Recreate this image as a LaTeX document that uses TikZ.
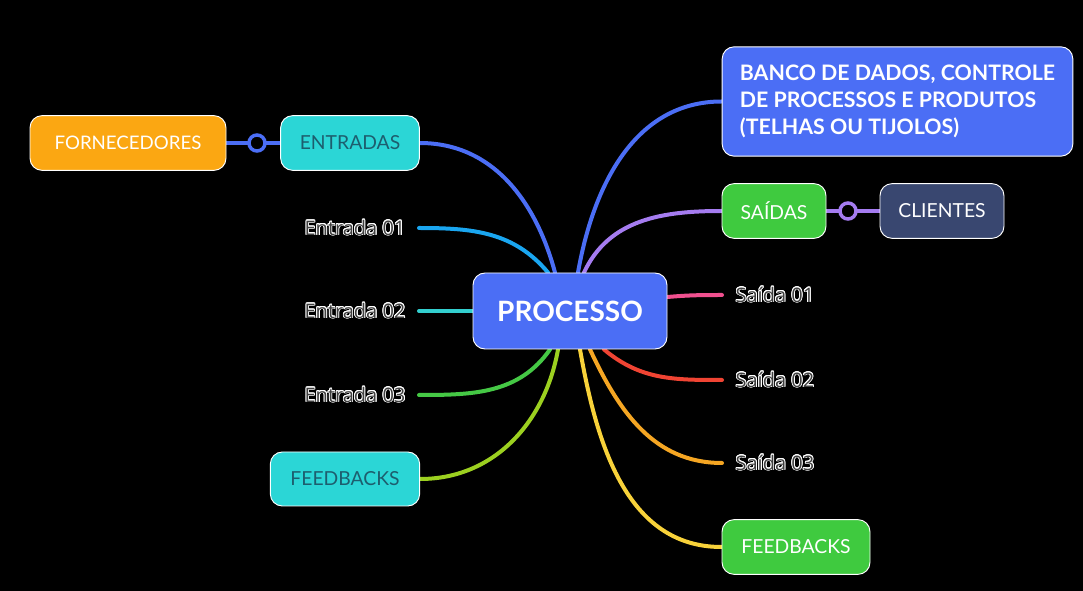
\documentclass[tikz,border=0pt]{standalone}
\usepackage{fontspec}
\setmainfont{Lato}
\newfontfamily\labelfont{Open Sans}
\usepackage[copies]{contour}
\contourlength{0.6pt}
\contournumber{16}
\usetikzlibrary{positioning,calc,backgrounds}

\definecolor{mainblue}{HTML}{4B6EF5}
\definecolor{nodecyan}{HTML}{2BD6D6}
\definecolor{nodeorange}{HTML}{FBA712}
\definecolor{nodegreen}{HTML}{3FCA3F}
\definecolor{nodenavy}{HTML}{394770}
\definecolor{tealtext}{HTML}{1D5E6E}
\definecolor{lnlightblue}{HTML}{1AA6F0}
\definecolor{lnteal}{HTML}{33CFCF}
\definecolor{lngreen}{HTML}{45C845}
\definecolor{lnlime}{HTML}{9CD020}
\definecolor{lnpurple}{HTML}{A57CF0}
\definecolor{lnpink}{HTML}{F0508F}
\definecolor{lnred}{HTML}{F04433}
\definecolor{lnorange}{HTML}{F5A623}
\definecolor{lnyellow}{HTML}{F8D23A}
\definecolor{labelgray}{HTML}{404040}

\begin{document}
\begin{tikzpicture}[
		x=0.75pt, y=-0.75pt,
		box/.style={
			draw=white,
			line width=0.7pt,
			rounded corners=9pt,
			minimum height=41pt,
			align=center,
			font=\fontsize{14.5}{17}\selectfont
		},
		leaf/.style={
			inner xsep=10pt,
			text=labelgray,
			font=\labelfont\fontsize{15}{18}\selectfont
		},
		link/.style={line width=3pt, line cap=round},
		ring/.style={
			circle,
			draw,
			fill=black,
			line width=2.6pt,
			minimum size=12pt,
			inner sep=0pt
		}
		]
		
		\begin{pgfonlayer}{background}
			\fill[black] (0,0) rectangle (1083,591);
		\end{pgfonlayer}
		\useasboundingbox (0,0) rectangle (1083,591);
		
		% central node
		\node (proc) [box, fill=mainblue, text=white, minimum width=145.5pt, minimum height=57pt,
			font=\fontsize{21}{25}\bfseries\selectfont] at (570,311) {PROCESSO};
		
		% left side
		\node (entradas) [box, fill=nodecyan, text=tealtext, minimum width=104pt] at (350,143) {ENTRADAS};
		
		\node (fornec) [box, fill=nodeorange, text=white, minimum width=147pt,
			font=\fontsize{14}{17}\selectfont] at (128,143) {FORNECEDORES};
		
		\node (ringL) [ring, draw=mainblue] at (257,143) {};
		
		\node (ent1) [leaf, anchor=east] at (419,228) {\contour{white}{Entrada 01}};
		
		\node (ent2) [leaf, anchor=east] at (419,311) {\contour{white}{Entrada 02}};
		
		\node (ent3) [leaf, anchor=east] at (419,395) {\contour{white}{Entrada 03}};
		
		\node (feedL) [box, fill=nodecyan, text=tealtext, minimum width=112pt, minimum height=40.5pt] at (345,479) {FEEDBACKS};
		
		% right side
		\node (banco) [box, fill=mainblue, text=white, minimum width=263pt, minimum height=82pt,
			align=left, font=\fontsize{16}{20}\bfseries\selectfont] at (897.5,101.5)
			{BANCO DE DADOS, CONTROLE\\DE PROCESSOS E PRODUTOS\\(TELHAS OU TIJOLOS)};
		
		\node (saidas) [box, fill=nodegreen, text=white, minimum width=78pt] at (774,211) {SAÍDAS};
		
		\node (ringR) [ring, draw=lnpurple] at (848,211) {};
		
		\node (clientes) [box, fill=nodenavy, text=white, minimum width=93pt] at (942,211) {CLIENTES};
		
		\node (sai1) [leaf, anchor=west] at (722,295) {\contour{white}{Saída 01}};
		
		\node (sai2) [leaf, anchor=west] at (722,380) {\contour{white}{Saída 02}};
		
		\node (sai3) [leaf, anchor=west] at (722,463) {\contour{white}{Saída 03}};
		
		\node (feedR) [box, fill=nodegreen, text=white, minimum width=111pt] at (796,547) {FEEDBACKS};
		
		% connectors
		\begin{pgfonlayer}{background}
		\draw[link, mainblue] (fornec)--(entradas);
		\draw[link, lnpurple] (saidas)--(clientes);
		
		\draw[link, mainblue] (entradas.east) to[out=0, in=105] ($(proc.north)+(-15,0)$);
		\draw[link, lnlightblue] (ent1.east) to[out=0, in=130] ($(proc.north)+(-22,0)$);
		\draw[link, lnteal] (ent2.east)--(proc.west);
		\draw[link, lngreen] (ent3.east) to[out=0, in=-125] ($(proc.south)+(-20,0)$);
		\draw[link, lnlime] (feedL.east) to[out=0, in=-100] ($(proc.south)+(-12,0)$);
		
		\draw[link, mainblue] ($(proc.north)+(8,0)$) to[out=80, in=180] (banco.west);
		\draw[link, lnpurple] ($(proc.north)+(14,0)$) to[out=65, in=180] (saidas.west);
		\draw[link, lnpink] ($(proc.east)+(0,-14)$) to[out=5, in=180] (sai1.west);
		\draw[link, lnred] ($(proc.south)+(34,0)$) to[out=-40, in=180] (sai2.west);
		\draw[link, lnorange] ($(proc.south)+(20,0)$) to[out=-65, in=180] (sai3.west);
		\draw[link, lnyellow] ($(proc.south)+(10,0)$) to[out=-80, in=180] (feedR.west);
		\end{pgfonlayer}
		
	\end{tikzpicture}
\end{document}
